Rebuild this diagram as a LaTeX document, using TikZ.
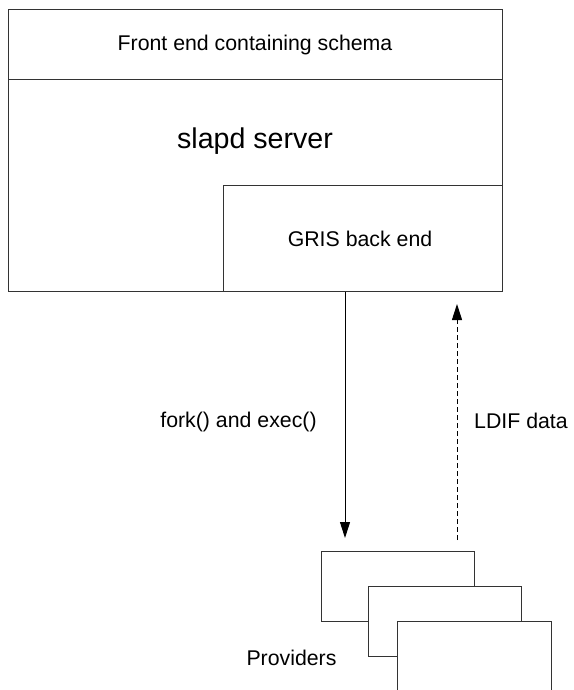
\documentclass[tikz,border=0pt]{standalone}
\usepackage{fontspec}
\setmainfont{Liberation Sans}
\usetikzlibrary{arrows.meta}
\usetikzlibrary{positioning}
\tikzset{box/.style = {draw=black!80, fill=white, line width=1pt, inner sep=0, anchor=north west}}
\tikzset{txt/.style = {font=\fontsize{21.3}{25}\selectfont, anchor=base, inner sep=0}}
\tikzset{flow/.style = {line width=1pt, -{Triangle[length=16pt, width=10pt]}}}

\begin{document}
\begin{tikzpicture}[x=1pt, y=-1pt]
      \clip (0, 0) rectangle (573, 690);

      \node [box, minimum width=494pt, minimum height=282pt] (server) at (8, 9) {};
      \node [box, minimum width=494pt, minimum height=70pt] (front) at (8, 9) {};
      \node [box, minimum width=279pt, minimum height=106pt] (gris) at (223, 185) {};

      \node [txt] (fronttext) at (255, 51) {Front end containing schema};
      \node [txt, font=\fontsize{28.6}{34}\selectfont] (slapd) at (255, 148) {slapd server};
      \node [txt] (gristext) at (360, 246) {GRIS back end};

      \node [box, minimum width=153pt, minimum height=70pt] (prov1) at (321, 551) {};
      \node [box, minimum width=153pt, minimum height=70pt] (prov2) at (368, 586) {};
      \node [box, minimum width=154pt, minimum height=70pt] (prov3) at (397, 621) {};
      \node [txt] (provtext) at (291.5, 665) {Providers};

      \draw [flow] (server.south -| 345,0) -- ([yshift=13pt]prov1.north -| 345,0);
      \draw [flow, dash pattern=on 5pt off 3pt] ([yshift=11pt]prov1.north -| 457,0) -- ([yshift=-12pt]server.south -| 457,0);

      \node [txt] (forktext) at (238.5, 427) {fork() and exec()};
      \node [txt] (ldiftext) at (521, 428) {LDIF data};
    \end{tikzpicture}
\end{document}
